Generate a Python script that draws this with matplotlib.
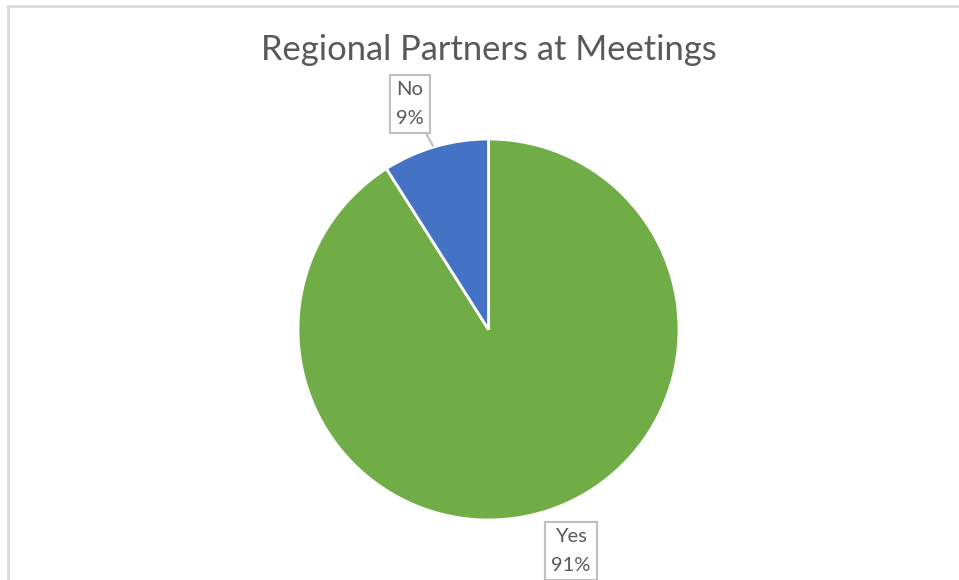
import matplotlib.pyplot as plt
from matplotlib.lines import Line2D

# data
categories = ["Yes", "No"]
values = [91, 9]
colors = ["#70AD47", "#4472C4"]
title = "Regional Partners at Meetings"

W, H = 959, 580
fig = plt.figure(figsize=(W / 100, H / 100), dpi=100)
ax = fig.add_axes([0, 0, 1, 1])

# chart area border (only top and left visible in crop)
fig.add_artist(Line2D([8 / W, 8 / W], [0, 1 - 5.5 / H], color="#D9D9D9", lw=2))
fig.add_artist(Line2D([8 / W, 1], [1 - 5.5 / H, 1 - 5.5 / H], color="#D9D9D9", lw=2))

cx, cy, r = 488.5, H - 329.5, 190.5
wedges, _ = ax.pie(values, colors=colors, startangle=90, counterclock=False,
                   center=(cx, cy), radius=r, frame=True,
                   wedgeprops=dict(edgecolor="white", linewidth=2))
ax.set_xlim(0, W)
ax.set_ylim(0, H)
ax.set_aspect("equal")
ax.axis("off")

ax.text(489, H - 50, title, ha="center", va="center", fontsize=24.8,
        color="#595959", family="Lato")

total = sum(values)
label_pos = {"No": (410, H - 104), "Yes": (571, H - 551)}
tail_pos = {"No": (433, H - 146), "Yes": None}
for cat, v in zip(categories, values):
    txt = f"{cat}\n{round(100 * v / total)}%"
    bbox = dict(boxstyle="square,pad=0.3", fc="white", ec="#BFBFBF", lw=1.5)
    kw = dict(ha="center", va="center", fontsize=14.5, color="#595959",
              family="Lato", linespacing=1.9, bbox=bbox)
    if tail_pos[cat] is not None:
        ax.annotate(txt, xy=tail_pos[cat], xytext=label_pos[cat],
                    arrowprops=dict(arrowstyle="-", color="#BFBFBF", lw=1.5,
                                    shrinkA=0, shrinkB=0), **kw)
    else:
        ax.text(*label_pos[cat], txt, **kw)

fig.savefig("out.png", dpi=100, facecolor="white")
